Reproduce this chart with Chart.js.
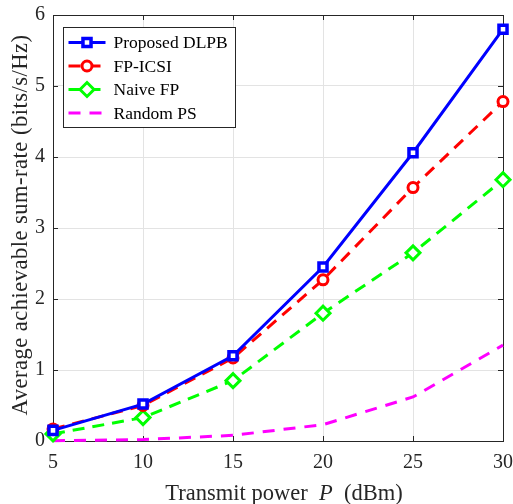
<!DOCTYPE html>
<html>
<head>
<meta charset="utf-8">
<script src="https://cdn.jsdelivr.net/npm/chart.js@4"></script>
<style>
  html, body { margin: 0; padding: 0; background: #fff; }
  #wrap { width: 513px; height: 504px; }
</style>
</head>
<body>
<div id="wrap"><canvas id="sumRate"></canvas></div>
<script>
const power = [5, 10, 15, 20, 25, 30];
const proposedDLPB = [0.15, 0.52, 1.2, 2.45, 4.06, 5.8];
const fpICSI = [0.17, 0.5, 1.17, 2.27, 3.57, 4.78];
const naiveFP = [0.1, 0.33, 0.85, 1.8, 2.65, 3.68];
const randomPS = [0.005, 0.02, 0.08, 0.23, 0.62, 1.35];
const xTicks = [5, 10, 15, 20, 25, 30];
const yTicks = [0, 1, 2, 3, 4, 5, 6];

const serif = 'Liberation Serif';
const pts = arr => arr.map((v, i) => ({ x: power[i], y: v }));

// box, inner ticks, legend and axis titles drawn the MATLAB way
const matlabLook = {
  id: 'matlabLook',
  beforeDatasetsDraw(chart) {
    const { ctx, chartArea: a, scales: { x, y } } = chart;
    ctx.save();
    ctx.strokeStyle = '#262626';
    ctx.lineWidth = 1;
    ctx.strokeRect(Math.round(a.left) + 0.5, Math.round(a.top) + 0.5,
      Math.round(a.right - a.left), Math.round(a.bottom - a.top));
    ctx.beginPath();
    xTicks.forEach(v => {
      const px = Math.round(x.getPixelForValue(v)) + 0.5;
      ctx.moveTo(px, a.bottom); ctx.lineTo(px, a.bottom - 5);
      ctx.moveTo(px, a.top); ctx.lineTo(px, a.top + 5);
    });
    yTicks.forEach(v => {
      const py = Math.round(y.getPixelForValue(v)) + 0.5;
      ctx.moveTo(a.left, py); ctx.lineTo(a.left + 5, py);
      ctx.moveTo(a.right, py); ctx.lineTo(a.right - 5, py);
    });
    ctx.stroke();
    ctx.restore();
  },
  afterDraw(chart) {
    const { ctx, chartArea: a } = chart;
    ctx.save();
    // legend
    const bx = Math.round(a.left) + 10.5, by = Math.round(a.top) + 12.5;
    const bw = 172, bh = 100;
    ctx.fillStyle = '#fff';
    ctx.fillRect(bx, by, bw, bh);
    ctx.strokeStyle = '#262626';
    ctx.lineWidth = 1;
    ctx.strokeRect(bx, by, bw, bh);
    ctx.font = '17.5px "' + serif + '"';
    ctx.textBaseline = 'middle';
    chart.data.datasets.forEach((ds, i) => {
      const ry = by + 15 + i * 23.5;
      const x0 = bx + 5, x1 = bx + 42;
      ctx.save();
      ctx.strokeStyle = ds.borderColor;
      ctx.lineWidth = ds.borderWidth;
      ctx.setLineDash(ds.borderDash || []);
      ctx.beginPath();
      ctx.moveTo(x0, ry); ctx.lineTo(x1, ry);
      ctx.stroke();
      ctx.setLineDash([]);
      if (ds.pointRadius > 0) {
        ctx.fillStyle = ds.pointBackgroundColor;
        ctx.strokeStyle = ds.borderColor;
        ctx.lineWidth = ds.pointBorderWidth;
        Chart.helpers.drawPoint(ctx, {
          pointStyle: ds.pointStyle, radius: ds.pointRadius,
          borderWidth: ds.pointBorderWidth, rotation: 0
        }, (x0 + x1) / 2, ry);
      }
      ctx.restore();
      ctx.fillStyle = '#000';
      ctx.textAlign = 'left';
      ctx.fillText(ds.label, bx + 50, ry + 1);
    });
    // x axis title with italic P
    const parts = [
      { t: 'Transmit power  ', f: '22.5px "' + serif + '"' },
      { t: 'P', f: 'italic 22.5px "' + serif + '"' },
      { t: '  (dBm)', f: '22.5px "' + serif + '"' }
    ];
    let total = 0;
    parts.forEach(p => { ctx.font = p.f; p.w = ctx.measureText(p.t).width; total += p.w; });
    let cx = 284 - total / 2;
    ctx.fillStyle = '#262626';
    ctx.textAlign = 'left';
    ctx.textBaseline = 'middle';
    parts.forEach(p => { ctx.font = p.f; ctx.fillText(p.t, cx, 494); cx += p.w; });
    // y axis title
    ctx.translate(21, 225);
    ctx.rotate(-Math.PI / 2);
    ctx.font = '22.5px "' + serif + '"';
    ctx.letterSpacing = '0.5px';
    ctx.textAlign = 'center';
    ctx.fillText('Average achievable sum-rate (bits/s/Hz)', 0, 0);
    ctx.restore();
  }
};

new Chart(document.getElementById('sumRate'), {
  type: 'line',
  data: {
    datasets: [
      {
        label: 'Proposed DLPB',
        data: pts(proposedDLPB),
        borderColor: '#0000ff',
        borderWidth: 3,
        pointStyle: 'rect',
        pointRadius: 5.7,
        pointBorderWidth: 3.5,
        pointBackgroundColor: '#ffffff',
        clip: false
      },
      {
        label: 'FP-ICSI',
        data: pts(fpICSI),
        borderColor: '#ff0000',
        borderWidth: 3,
        borderDash: [12, 8],
        pointStyle: 'circle',
        pointRadius: 5,
        pointBorderWidth: 3,
        pointBackgroundColor: '#ffffff',
        clip: false
      },
      {
        label: 'Naive FP',
        data: pts(naiveFP),
        borderColor: '#00ff00',
        borderWidth: 3,
        borderDash: [12, 8],
        pointStyle: 'rectRot',
        pointRadius: 7,
        pointBorderWidth: 3,
        pointBackgroundColor: '#ffffff',
        clip: false
      },
      {
        label: 'Random PS',
        data: pts(randomPS),
        borderColor: '#ff00ff',
        borderWidth: 3,
        borderDash: [12, 9],
        pointRadius: 0,
        clip: false
      }
    ]
  },
  options: {
    responsive: true,
    maintainAspectRatio: false,
    animation: false,
    layout: { padding: { left: 0, right: 9, top: 15, bottom: 0 } },
    plugins: { legend: { display: false }, tooltip: { enabled: false } },
    scales: {
      x: {
        type: 'linear',
        min: 5,
        max: 30,
        afterBuildTicks: s => { s.ticks = xTicks.map(v => ({ value: v })); },
        afterFit: s => { s.height = 63; s.paddingLeft = 0; s.paddingRight = 0; },
        grid: { color: '#e3e3e3', drawTicks: false },
        border: { display: false },
        ticks: { color: '#262626', padding: 10, font: { family: serif, size: 20 } }
      },
      y: {
        min: 0,
        max: 6,
        afterBuildTicks: s => { s.ticks = yTicks.map(v => ({ value: v })); },
        afterFit: s => { s.width = 53; s.paddingTop = 0; s.paddingBottom = 0; },
        grid: { color: '#e3e3e3', drawTicks: false },
        border: { display: false },
        ticks: { color: '#262626', padding: 8, font: { family: serif, size: 20 } }
      }
    }
  },
  plugins: [matlabLook]
});
</script>
</body>
</html>
